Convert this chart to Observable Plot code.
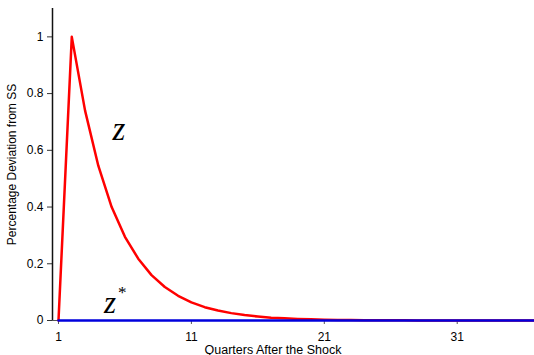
<!DOCTYPE html>
<html>
<head>
<meta charset="utf-8">
<script src="https://cdn.jsdelivr.net/npm/d3@7"></script>
<script src="https://cdn.jsdelivr.net/npm/@observablehq/plot@0.6"></script>
<style>
  html, body { margin: 0; padding: 0; background: #fff; }
  svg { display: block; }
</style>
</head>
<body>
<div id="chart"></div>
<script>
// Quarters after the shock
const quarters = [1,2,3,4,5,6,7,8,9,10,11,12,13,14,15,16,17,18,19,20,21,22,23,24,25,26,27,28,29,30,31,32,33,34,35,36,37];
// z : home shock response (percentage deviation from SS)
const zValues = [0,1.0,0.74,0.545,0.40,0.295,0.218,0.16,0.118,0.087,0.064,0.047,0.035,0.026,0.019,0.014,0.010,0.0075,0.0055,0.004,0.003,0.0022,0.0016,0.0012,0.0009,0.0006,0.0005,0.0003,0.0003,0.0002,0.0001,0.0001,0.0001,0,0,0,0];
// z* : foreign response
const zStarValues = [0,0,0,0,0,0,0,0,0,0,0,0,0,0,0,0,0,0,0,0,0,0,0,0,0,0,0,0,0,0,0,0,0,0,0,0,0];
const xTicks = [1, 11, 21, 31];
const yTicks = [0, 0.2, 0.4, 0.6, 0.8, 1];
const yTickLabels = ["0", "0.2", "0.4", "0.6", "0.8", "1"];
const xLabel = "Quarters After the Shock";
const yLabel = "Percentage Deviation from SS";

const zData = quarters.map((q, i) => ({q, v: zValues[i]}));
const zStarData = quarters.map((q, i) => ({q, v: zStarValues[i]}));

const xDomain = [0.549, 36.74];

const chart = Plot.plot({
  width: 534,
  height: 355,
  marginLeft: 52,
  marginRight: 1,
  marginTop: 8,
  marginBottom: 35,
  style: {fontFamily: "'Liberation Sans', Arial, sans-serif", fontSize: "12px", color: "#000", background: "#fff", overflow: "hidden"},
  x: {domain: xDomain, range: [52, 533]},
  y: {domain: [0, 1.1]},
  marks: [
    Plot.axisY({ticks: yTicks, tickFormat: d => yTickLabels[yTicks.indexOf(d)], tickSize: 5, tickPadding: 4, label: null, fontSize: 12, stroke: "#333"}),
    Plot.axisX({ticks: xTicks, tickFormat: d => String(d), tickSize: 4, tickPadding: 8, label: null, fontSize: 12, stroke: "#555"}),
    Plot.text([yLabel], {frameAnchor: "left", textAnchor: "middle", text: d => d, rotate: -90, dx: -40, fontSize: 12, fill: "#000"}),
    Plot.text([xLabel], {frameAnchor: "bottom", textAnchor: "middle", lineAnchor: "bottom", text: d => d, dx: -20, dy: 33, fontSize: 12.5, fill: "#000"}),
    Plot.ruleY([0], {stroke: "#555", strokeWidth: 1}),
    Plot.line(zData, {x: "q", y: "v", stroke: "#ff0000", strokeWidth: 2.5}),
    Plot.line(zStarData, {x: "q", y: "v", stroke: "#0000dd", strokeWidth: 2.5}),
    Plot.ruleX([xDomain[0]], {y1: 0, y2: 1.1, stroke: "#111", strokeWidth: 1.5}),
    Plot.text(["z"], {x: 5.55, y: 0.634, text: d => d, fontFamily: "'Liberation Serif', 'Times New Roman', serif", fontStyle: "italic", fontSize: 33, lineAnchor: "bottom", dy: -1, fill: "#000"}),
    Plot.text(["z"], {x: 4.88, y: 0.025, text: d => d, fontFamily: "'Liberation Serif', 'Times New Roman', serif", fontStyle: "italic", fontSize: 31, lineAnchor: "bottom", dy: 0, fill: "#000"}),
    Plot.text(["*"], {x: 5.8, y: 0.1, text: d => d, fontFamily: "'Liberation Serif', 'Times New Roman', serif", fontSize: 17, fill: "#000"})
  ]
});
document.getElementById("chart").appendChild(chart);
</script>
</body>
</html>
